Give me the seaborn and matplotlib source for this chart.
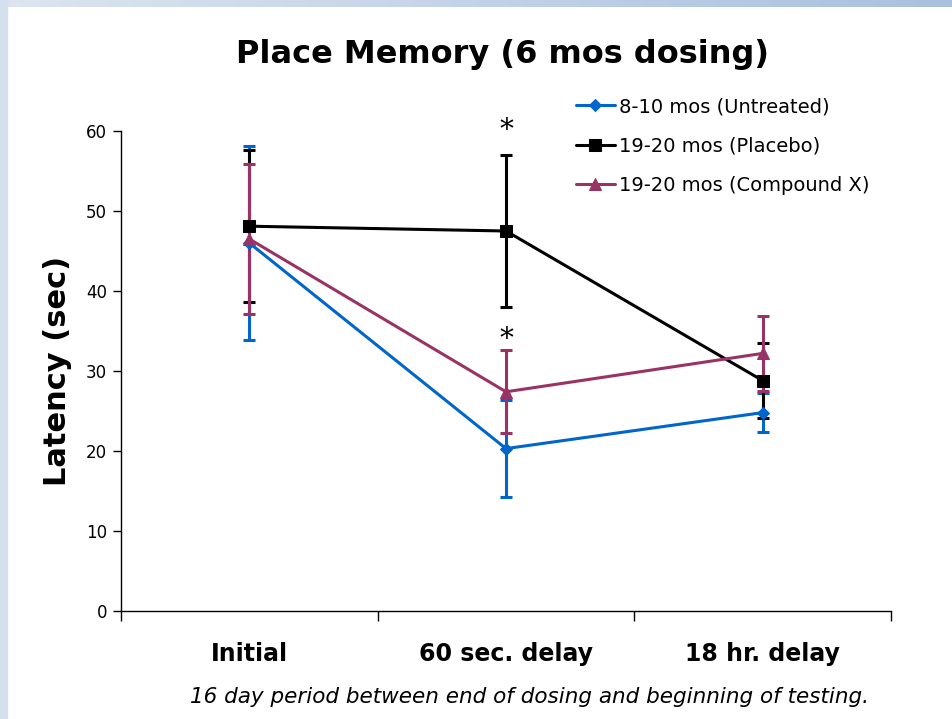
import matplotlib
matplotlib.use("Agg")
import matplotlib.pyplot as plt
import numpy as np
import pandas as pd
import seaborn as sns

# values
conditions = ["Initial", "60 sec. delay", "18 hr. delay"]
groups = ["8-10 mos (Untreated)", "19-20 mos (Placebo)", "19-20 mos (Compound X)"]
untreated = [46.0, 20.3, 24.8]
untreated_err = [12.1, 6.1, 2.4]
placebo = [48.1, 47.5, 28.8]
placebo_err = [9.5, 9.5, 4.7]
compound = [46.5, 27.4, 32.2]
compound_err = [9.4, 5.2, 4.7]
star_pos = [(1, 60.0), (1, 33.9)]

colors = ["#0066CC", "#000000", "#993366"]
markers = ["D", "s", "^"]
msizes = [6, 9, 9]

sns.set_style("white")
plt.rcParams["font.family"] = ["DejaVu Sans"]
plt.rcParams["text.color"] = "black"
plt.rcParams["xtick.color"] = "black"
plt.rcParams["ytick.color"] = "black"
plt.rcParams["axes.labelcolor"] = "black"

df = pd.DataFrame({
    "x": list(range(3)) * 3,
    "latency": untreated + placebo + compound,
    "err": untreated_err + placebo_err + compound_err,
    "group": np.repeat(groups, 3),
})

fig = plt.figure(figsize=(9.52, 7.19), dpi=100)
# light blue slide frame
fig.patches.append(plt.Rectangle((0, 0), 7 / 952, 1, transform=fig.transFigure,
                                 color="#D5E0EE", zorder=0))
grad = np.linspace(0, 1, 256).reshape(1, -1)
fax = fig.add_axes([0, 1 - 7 / 719, 1, 7 / 719])
fax.imshow(grad, aspect="auto", cmap=matplotlib.colors.LinearSegmentedColormap.from_list(
    "frame", ["#DCE5F0", "#A9C0DE"]))
fax.axis("off")

ax = fig.add_axes([121 / 952, 1 - 611 / 719, 770 / 952, 480 / 719])

for g, c, m, ms in zip(groups, colors, markers, msizes):
    sub = df[df["group"] == g]
    ax.errorbar(sub["x"], sub["latency"], yerr=sub["err"], fmt="none", ecolor=c,
                elinewidth=2.2, capsize=4, capthick=2.2, zorder=2)
    sns.lineplot(data=sub, x="x", y="latency", color=c, marker=m, markersize=ms,
                 markeredgecolor=c, linewidth=2.2, label=g, ax=ax, zorder=3)

for sx, sy in star_pos:
    ax.text(sx, sy, "*", ha="center", va="center", fontsize=20, family="DejaVu Serif",
            clip_on=False)

ax.set_xlim(-0.5, 2.5)
ax.set_ylim(0, 60)
ax.set_yticks(range(0, 61, 10))
ax.set_xticks(range(3))
ax.set_xticklabels(conditions, fontsize=17, fontweight="bold")
ax.set_xticks([-0.5, 0.5, 1.5, 2.5], minor=True)
ax.tick_params(axis="x", which="major", length=0, pad=22)
ax.tick_params(axis="x", which="minor", length=7, width=1, direction="out", bottom=True)
ax.tick_params(axis="y", length=6, width=1, direction="out", labelsize=12, pad=4, left=True)
ax.set_xlabel("")
ax.set_ylabel("Latency (sec)", fontsize=22, fontweight="bold", labelpad=10)
sns.despine(ax=ax)
for s in ["left", "bottom"]:
    ax.spines[s].set_color("black")
    ax.spines[s].set_linewidth(1)

leg = ax.legend(loc="upper left", bbox_to_anchor=(0.568, 1.107), frameon=False,
                fontsize=14, handlelength=2.0, labelspacing=1.05, handletextpad=0.2)

fig.text(503 / 952, 1 - 55 / 719, "Place Memory (6 mos dosing)", ha="center", va="center",
         fontsize=23, fontweight="bold")
fig.text(530 / 952, 1 - 697 / 719, "16 day period between end of dosing and beginning of testing.",
         ha="center", va="center", fontsize=15.5, style="italic")

fig.savefig("out.png", dpi=100)
